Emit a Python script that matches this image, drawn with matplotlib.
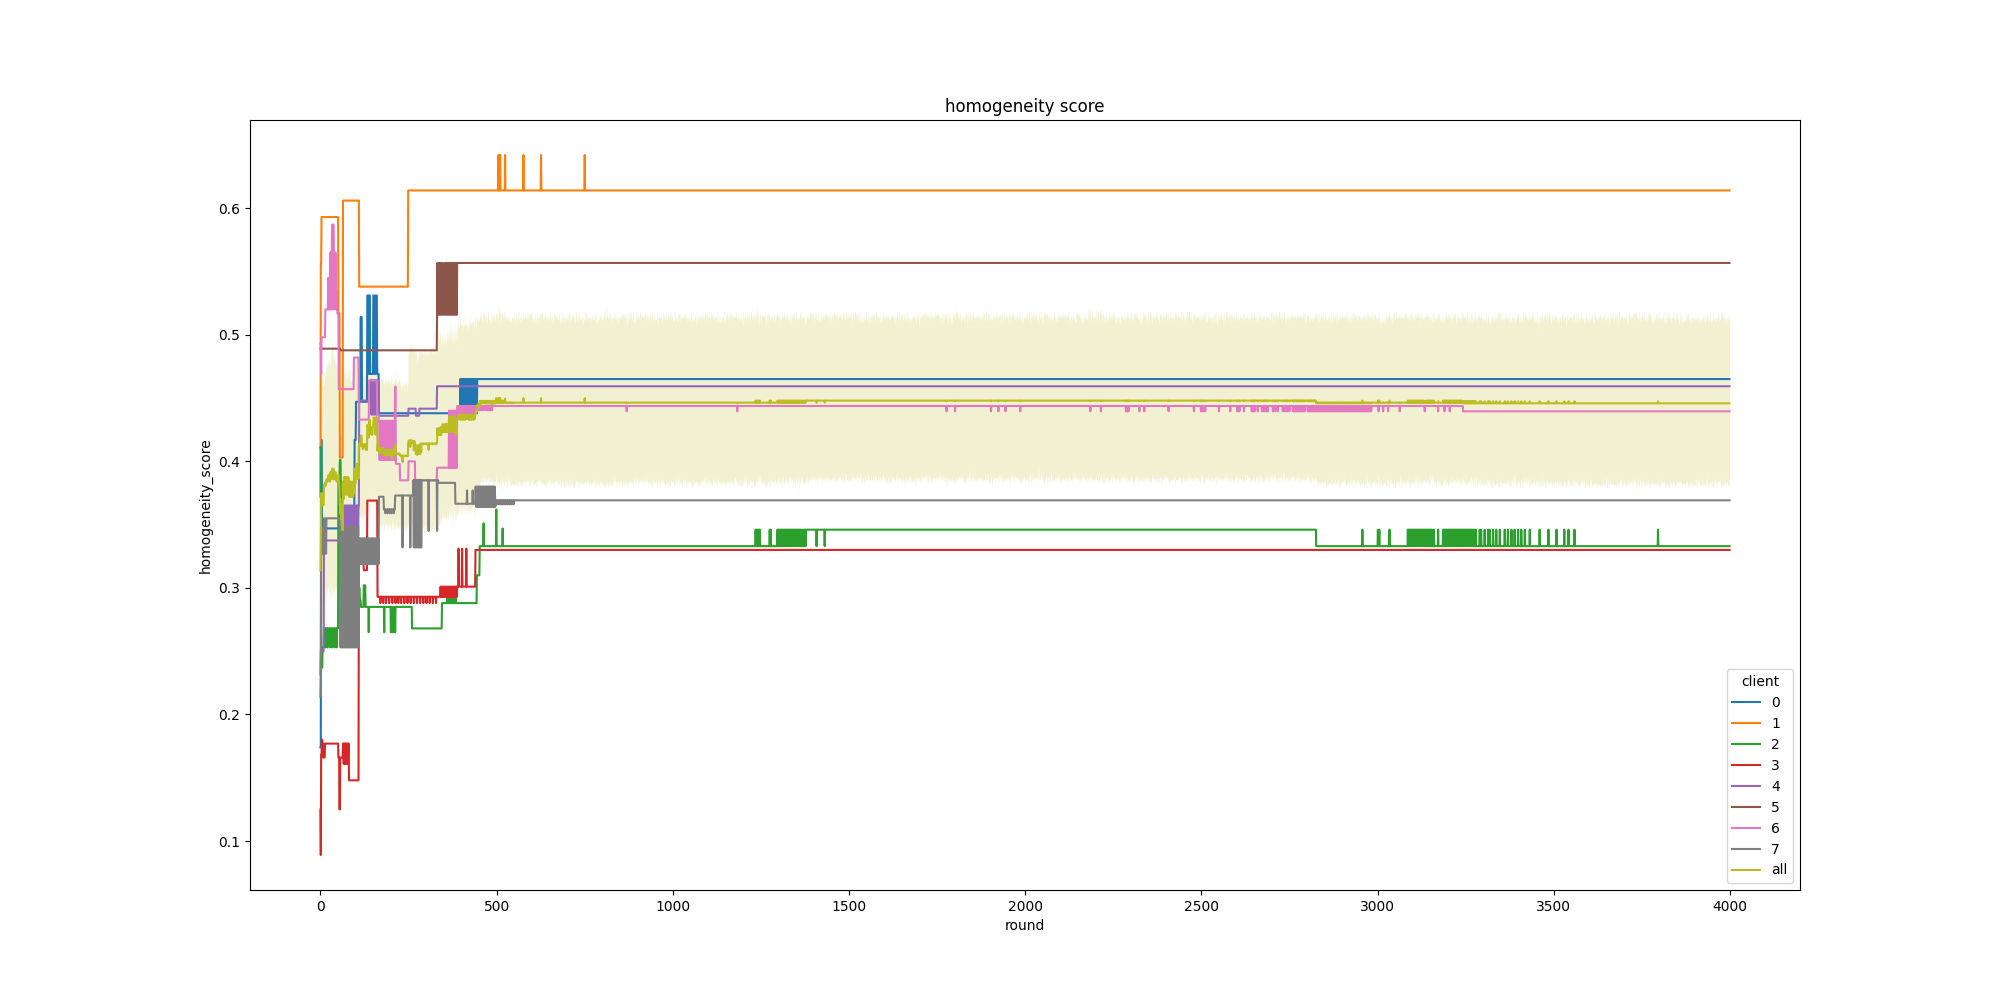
import numpy as np
import matplotlib.pyplot as plt

n_rounds = 4000
rounds = np.arange(n_rounds)
clients = ["0", "1", "2", "3", "4", "5", "6", "7"]

# (first round, score) -- the score holds until the next change point
steps_0 = [(0, 0.174), (2, 0.417), (4, 0.347), (53, 0.360), (97, 0.417), (101, 0.447),
           (114, 0.514), (118, 0.447), (133, 0.531), (136, 0.469), (138, 0.531), (141, 0.469),
           (150, 0.531), (154, 0.469), (157, 0.531), (161, 0.469), (166, 0.438), (445, 0.465)]
steps_1 = [(0, 0.372), (1, 0.556), (3, 0.593), (51, 0.517), (55, 0.403), (64, 0.606),
           (110, 0.538), (249, 0.614)]
steps_2 = [(0, 0.411), (2, 0.237), (6, 0.253), (10, 0.268), (51, 0.386), (55, 0.401),
           (58, 0.372), (61, 0.300), (112, 0.290), (115, 0.285), (123, 0.302), (128, 0.285),
           (260, 0.268), (345, 0.288), (444, 0.310), (452, 0.333), (1378, 0.346), (2826, 0.333)]
steps_3 = [(0, 0.125), (1, 0.089), (2, 0.168), (4, 0.180), (6, 0.177), (8, 0.166),
           (13, 0.177), (51, 0.166), (54, 0.125), (56, 0.166), (64, 0.177), (81, 0.148),
           (109, 0.319), (123, 0.314), (133, 0.369), (162, 0.293), (388, 0.301), (440, 0.330)]
steps_4 = [(0, 0.232), (1, 0.250), (10, 0.3375), (67, 0.365), (110, 0.448), (142, 0.464),
           (166, 0.436), (250, 0.4416), (271, 0.436), (281, 0.4416), (331, 0.4593)]
steps_5 = [(0, 0.489), (57, 0.4877), (331, 0.516), (388, 0.5567)]
steps_6 = [(0, 0.493), (2, 0.469), (3, 0.498), (14, 0.520), (22, 0.545), (28, 0.565),
           (33, 0.587), (38, 0.565), (44, 0.535), (48, 0.517), (52, 0.457), (95, 0.482),
           (109, 0.433), (138, 0.464), (161, 0.437), (166, 0.432), (212, 0.459), (214, 0.398),
           (226, 0.385), (250, 0.400), (269, 0.377), (284, 0.385), (331, 0.395), (388, 0.4437),
           (3243, 0.4395)]
steps_7 = [(0, 0.214), (1, 0.232), (2, 0.348), (5, 0.327), (10, 0.355), (14, 0.327),
           (17, 0.355), (55, 0.348), (109, 0.339), (166, 0.372), (180, 0.362), (212, 0.373),
           (264, 0.385), (335, 0.383), (383, 0.3665), (440, 0.380), (497, 0.3692)]

# single-round excursions: (score, rounds)
blips_0 = [(0.465, [397, 400, 403, 406, 409, 412, 415, 418, 421, 424, 427, 430, 433, 436, 439, 442])]
blips_1 = [(0.642, [505, 507, 510, 524, 576, 626, 750])]
blips_2 = [
    (0.253, [14, 20, 27, 33, 40, 46]),
    (0.265, [137, 181, 200, 204, 208, 212]),
    (0.295, [360, 364, 368, 372, 376, 380, 384]),
    (0.351, [463]), (0.362, [499]), (0.347, [517]),
    (0.346, [1235, 1238, 1241, 1244, 1247, 1275, 1278, 1297, 1300, 1303, 1306, 1309, 1312,
             1315, 1318, 1321, 1324, 1327, 1330, 1333, 1336, 1339, 1342, 1345, 1348, 1351,
             1354, 1357, 1360, 1363, 1367, 1371, 1375]),
    (0.333, [1408, 1431]),
    (0.346, [2957, 3001, 3005, 3034, 3086, 3089, 3092, 3095, 3098, 3101, 3104, 3107, 3110,
             3113, 3116, 3119, 3122, 3125, 3128, 3131, 3134, 3137, 3140, 3143, 3146, 3149,
             3152, 3155, 3160, 3172, 3186, 3189, 3192, 3195, 3198, 3201, 3204, 3207, 3210,
             3213, 3216, 3219, 3222, 3225, 3228, 3231, 3234, 3237, 3240, 3243, 3246, 3249,
             3252, 3255, 3258, 3261, 3264, 3267, 3270, 3273, 3276, 3279, 3290, 3294, 3304,
             3314, 3318, 3328, 3337, 3347, 3361, 3370, 3380, 3389, 3399, 3408, 3418, 3432,
             3460, 3485, 3508, 3530, 3542, 3559, 3796]),
]
blips_3 = [
    (0.161, [66, 69, 72, 75, 78]),
    (0.288, [170, 178, 186, 195, 204, 213, 221, 229, 238, 247, 256, 265, 274, 283, 292,
             301, 310, 319, 328]),
    (0.301, [341, 344, 347, 350, 353, 356, 359, 362, 365, 368, 371, 374, 377, 380, 383, 386]),
    (0.331, [392, 402, 414]),
]
blips_4 = [
    (0.341, [68, 71, 74, 77, 80, 83, 86, 89, 92, 95, 98, 101, 104, 107]),
    (0.437, [144, 147, 150, 153, 156, 159, 162]),
]
blips_5 = [(0.5567, [332, 335, 338, 341, 344, 347, 353, 356, 359, 362, 365, 368, 371, 374,
                     377, 380, 383, 386])]
blips_6 = [
    (0.520, [24, 27, 30, 35, 41, 46]),
    (0.401, [168, 171, 174, 177, 180, 183, 186, 189, 192, 195, 198, 201, 204, 207, 210]),
    (0.440, [365, 368, 371, 374, 377, 380, 383, 386]),
    (0.438, [392, 398, 404, 410, 416, 422, 428, 434, 440]),
    (0.4403, [447, 452, 458, 463, 470, 476, 482, 487]),
    (0.4395, [869, 1183, 1777, 1801, 1903, 1924, 1944, 1986, 2185, 2215, 2286, 2290, 2293,
              2324, 2338, 2407, 2479, 2499, 2505, 2511, 2550, 2582, 2602, 2608, 2621, 2643,
              2648, 2651, 2660, 2672, 2678, 2684, 2689, 2703, 2710, 2717, 2731, 2738, 2744,
              2750, 2760, 2763, 2766, 2769, 2772, 2775, 2778, 2781, 2784, 2787, 2790, 2793,
              2802, 2805, 2808, 2811, 2814, 2817, 2820, 2823, 2826, 2829, 2832, 2835, 2838,
              2841, 2844, 2847, 2850, 2853, 2856, 2859, 2862, 2865, 2868, 2871, 2874, 2877,
              2880, 2883, 2886, 2889, 2892, 2895, 2898, 2901, 2904, 2907, 2910, 2913, 2916,
              2919, 2922, 2925, 2928, 2931, 2934, 2937, 2940, 2943, 2946, 2949, 2952, 2955,
              2958, 2961, 2964, 2967, 2970, 2973, 2976, 2979, 2982, 3003, 3016, 3030, 3063,
              3134, 3172, 3190, 3205]),
]
blips_7 = [
    (0.253, [57, 60, 63, 66, 69, 72, 75, 78, 81, 84, 87, 90, 93, 96, 99, 102, 105, 108]),
    (0.319, [111, 114, 117, 120, 123, 126, 129, 132, 135, 138, 141, 144, 147, 150, 153,
             156, 159, 162, 165]),
    (0.359, [184, 190, 196, 202, 208]),
    (0.332, [233, 255, 265, 268, 271, 274, 277, 280, 283, 286]),
    (0.345, [307, 331]),
    (0.377, [416, 432]),
    (0.364, [442, 445, 448, 451, 454, 457, 460, 463, 466, 469, 472, 475, 478, 481, 484,
             487, 490, 493, 496]),
    (0.366, [500, 506, 512, 518, 524, 530, 536, 542, 548]),
]

all_steps = [steps_0, steps_1, steps_2, steps_3, steps_4, steps_5, steps_6, steps_7]
all_blips = [blips_0, blips_1, blips_2, blips_3, blips_4, blips_5, blips_6, blips_7]


def build(steps, blips):
    s = np.empty(n_rounds)
    for r, v in steps:
        s[r:] = v
    for v, rs in blips:
        s[rs] = v
    return s


scores = np.array([build(st, bl) for st, bl in zip(all_steps, all_blips)])

# "all": mean over clients with a 95% bootstrap interval (1000 resamples per round)
mean_all = scores.mean(axis=0)
rng = np.random.default_rng(0)
lo = np.empty(n_rounds)
hi = np.empty(n_rounds)
for start in range(0, n_rounds, 500):
    block = scores[:, start:start + 500].T
    m = block.shape[0]
    idx = rng.integers(0, len(clients), size=(m, 1000, len(clients)))
    boot = block[np.arange(m)[:, None, None], idx].mean(axis=2)
    lo[start:start + m], hi[start:start + m] = np.percentile(boot, [2.5, 97.5], axis=1)

fig, ax = plt.subplots(figsize=(20, 10), dpi=100)
for i, name in enumerate(clients):
    ax.plot(rounds, scores[i], color=f"C{i}", lw=1.5, label=name)
ax.plot(rounds, mean_all, color="C8", lw=1.5, label="all")
ax.fill_between(rounds, lo, hi, color="C8", alpha=0.2, lw=0)

ax.set_title("homogeneity score")
ax.set_xlabel("round")
ax.set_ylabel("homogeneity_score")
ax.legend(title="client", loc="lower right")

fig.savefig("out.png")
